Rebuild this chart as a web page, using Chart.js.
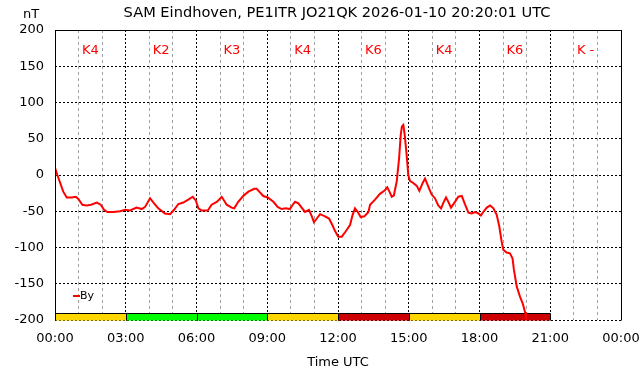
<!DOCTYPE html>
<html>
<head>
<meta charset="utf-8">
<script src="https://cdn.jsdelivr.net/npm/chart.js@4.4.1/dist/chart.umd.min.js"></script>
<style>
  html, body { margin: 0; padding: 0; background: #fff; }
</style>
</head>
<body>
<canvas id="magChart" width="642" height="376"></canvas>
<script>
// ── Data ──────────────────────────────────────────────
const TITLE = 'SAM Eindhoven, PE1ITR JO21QK 2026-01-10 20:20:01 UTC';

// time of day in hours (UTC)
const hours = [
  0.00, 0.10, 0.35, 0.50, 0.71, 0.88, 0.99, 1.16, 1.34, 1.53, 1.77, 1.94, 2.08, 2.22, 2.47, 2.76, 2.97,
  3.18, 3.46, 3.68, 3.82, 4.03, 4.20, 4.38, 4.66, 4.88, 5.05, 5.23, 5.44, 5.65, 5.84, 5.97,
  6.08, 6.22, 6.48, 6.64, 6.86, 7.07, 7.28, 7.49, 7.60, 7.77, 7.98, 8.20, 8.45, 8.55, 8.69, 8.83,
  9.02, 9.26, 9.44, 9.61, 9.78, 9.96, 10.08, 10.18, 10.32, 10.46, 10.60, 10.77, 10.89, 10.98, 11.10,
  11.24, 11.45, 11.62, 11.76, 11.87, 12.01, 12.16, 12.30, 12.51, 12.62, 12.72, 12.84, 12.96, 13.12,
  13.29, 13.36, 13.57, 13.78, 13.99, 14.09, 14.18, 14.28, 14.37, 14.49, 14.59, 14.66, 14.71, 14.77,
  14.83, 14.91, 14.98, 15.05, 15.19, 15.34, 15.45, 15.59, 15.69, 15.83, 15.97, 16.11, 16.25, 16.37,
  16.47, 16.58, 16.68, 16.79, 16.96, 17.10, 17.25, 17.39, 17.53, 17.67, 17.81, 17.95, 18.06, 18.16,
  18.31, 18.45, 18.59, 18.73, 18.84, 18.94, 19.01, 19.15, 19.29, 19.40, 19.46, 19.58, 19.72, 19.83,
  19.93, 19.97
];

// By component (nT)
const byValues = [
  10, 0, -23, -31, -31, -30, -33, -41, -42, -41, -38, -41, -48, -51, -51, -50, -48,
  -49, -45, -47, -44, -32, -39, -46, -53, -54, -48, -40, -38, -34, -30, -35,
  -46, -49, -49, -41, -37, -30, -41, -45, -46, -37, -29, -23, -19, -19, -24, -29,
  -31, -37, -44, -47, -46, -47, -41, -37, -39, -45, -51, -48, -57, -65, -60,
  -54, -57, -60, -69, -77, -85, -85, -79, -69, -55, -46, -51, -58, -57,
  -51, -41, -34, -26, -21, -17, -23, -30, -28, -9, 23, 55, 67, 69,
  55, 28, 0, -8, -11, -15, -22, -11, -5, -16, -27, -32, -42, -46,
  -38, -31, -37, -45, -37, -30, -29, -41, -52, -53, -51, -53, -56, -51,
  -45, -42, -46, -55, -71, -92, -103, -107, -108, -115, -131, -154, -168, -177,
  -189, -195
];

// 3-hour K-index blocks
const kStart  = [0, 3, 6, 9, 12, 15, 18, 21];
const kLabels = ['K4', 'K2', 'K3', 'K4', 'K6', 'K4', 'K6', 'K -'];
const kValues = [4, 2, 3, 4, 6, 4, 6, null];

// ── Helpers ───────────────────────────────────────────
const FONT = "'DejaVu Sans', sans-serif";

function kColor(k) {
  if (k <= 3) return '#00ff00';
  if (k === 4) return '#ffd700';
  return '#cc0000';
}

function hhmm(v) {
  return String(v % 24).padStart(2, '0') + ':00';
}

// ── Overlay plugin: K bars, frame, labels ─────────────
const overlay = {
  id: 'overlay',
  beforeDatasetsDraw(chart) {
    const { ctx, scales: { x, y } } = chart;
    ctx.save();
    // K-index bars
    const yTop = Math.round(y.getPixelForValue(-190)) + 0.5;
    const yBot = Math.round(y.getPixelForValue(-200)) + 0.5;
    kStart.forEach((s, i) => {
      if (kValues[i] == null) return;
      const x0 = Math.round(x.getPixelForValue(s)) + 0.5;
      const x1 = Math.round(x.getPixelForValue(s + 3)) + 0.5;
      ctx.fillStyle = kColor(kValues[i]);
      ctx.fillRect(x0, yTop, x1 - x0, yBot - yTop);
      ctx.strokeStyle = '#000';
      ctx.lineWidth = 1;
      ctx.beginPath();
      ctx.moveTo(x0, yBot);
      ctx.lineTo(x0, yTop);
      ctx.lineTo(x1, yTop);
      ctx.lineTo(x1, yBot);
      ctx.stroke();
    });
    ctx.restore();
  },
  afterDraw(chart) {
    const { ctx, chartArea: a, scales: { x, y } } = chart;
    ctx.save();
    // frame: left, top, right solid
    ctx.strokeStyle = '#000';
    ctx.lineWidth = 1;
    ctx.setLineDash([]);
    const l = Math.round(a.left) + 0.5, r = Math.round(a.right) + 0.5;
    const t = Math.round(a.top) + 0.5, b = Math.round(a.bottom) + 0.5;
    ctx.beginPath();
    ctx.moveTo(l, b); ctx.lineTo(l, t); ctx.lineTo(r, t); ctx.lineTo(r, b);
    ctx.stroke();

    // K labels
    ctx.fillStyle = '#ff0000';
    ctx.font = '13px ' + FONT;
    ctx.textAlign = 'center';
    ctx.textBaseline = 'middle';
    kStart.forEach((s, i) => {
      ctx.fillText(kLabels[i], x.getPixelForValue(s + 1.5), y.getPixelForValue(172));
    });

    // title and unit
    ctx.fillStyle = '#000';
    ctx.font = '14.6px ' + FONT;
    ctx.fillText(TITLE, 337, 13);
    ctx.font = '13px ' + FONT;
    ctx.fillText('nT', 31, 15);

    // legend
    ctx.strokeStyle = '#ff0000';
    ctx.lineWidth = 2;
    ctx.beginPath();
    ctx.moveTo(a.left + 18, 296);
    ctx.lineTo(a.left + 25, 296);
    ctx.stroke();
    ctx.fillStyle = '#000';
    ctx.font = '11px ' + FONT;
    ctx.textAlign = 'left';
    ctx.fillText('By', a.left + 25, 296);
    ctx.restore();
  }
};

// ── Chart ─────────────────────────────────────────────
Chart.defaults.font.family = FONT;
Chart.defaults.font.size   = 13;
Chart.defaults.color       = '#000';

new Chart(document.getElementById('magChart'), {
  type: 'line',
  data: {
    datasets: [{
      label: 'By',
      data: hours.map((h, i) => ({ x: h, y: byValues[i] })),
      borderColor: '#ff0000',
      borderWidth: 2,
      pointRadius: 0,
      tension: 0,
    }]
  },
  options: {
    responsive: false,
    animation: false,
    devicePixelRatio: 1,
    layout: { padding: { top: 30, right: 21, left: 0, bottom: 0 } },
    plugins: {
      legend:  { display: false },
      title:   { display: false },
      tooltip: { enabled: false },
    },
    scales: {
      x: {
        type: 'linear',
        min: 0,
        max: 24,
        afterFit: s => { s.height = 56; s.paddingLeft = 0; s.paddingRight = 0; },
        ticks: {
          stepSize: 1,
          autoSkip: false,
          maxRotation: 0,
          padding: 11,
          callback: v => (v % 3 === 0 ? hhmm(v) : ''),
        },
        grid: {
          drawTicks: false,
          color: c => (c.tick && c.tick.value % 3 === 0 ? '#000' : '#a0a0a0'),
        },
        border: {
          display: false,
          dash: c => (c.tick && c.tick.value % 3 === 0 ? [2, 2] : [3, 3]),
        },
        title: { display: true, text: 'Time UTC', padding: { top: 8, bottom: 6 } },
      },
      y: {
        min: -200,
        max: 200,
        afterFit: s => { s.width = 55; s.paddingTop = 0; s.paddingBottom = 0; },
        ticks: { stepSize: 50, padding: 11, callback: v => String(v) },
        grid: { drawTicks: false, color: '#000' },
        border: { display: false, dash: [2, 2] },
      }
    }
  },
  plugins: [overlay]
});
</script>
</body>
</html>
